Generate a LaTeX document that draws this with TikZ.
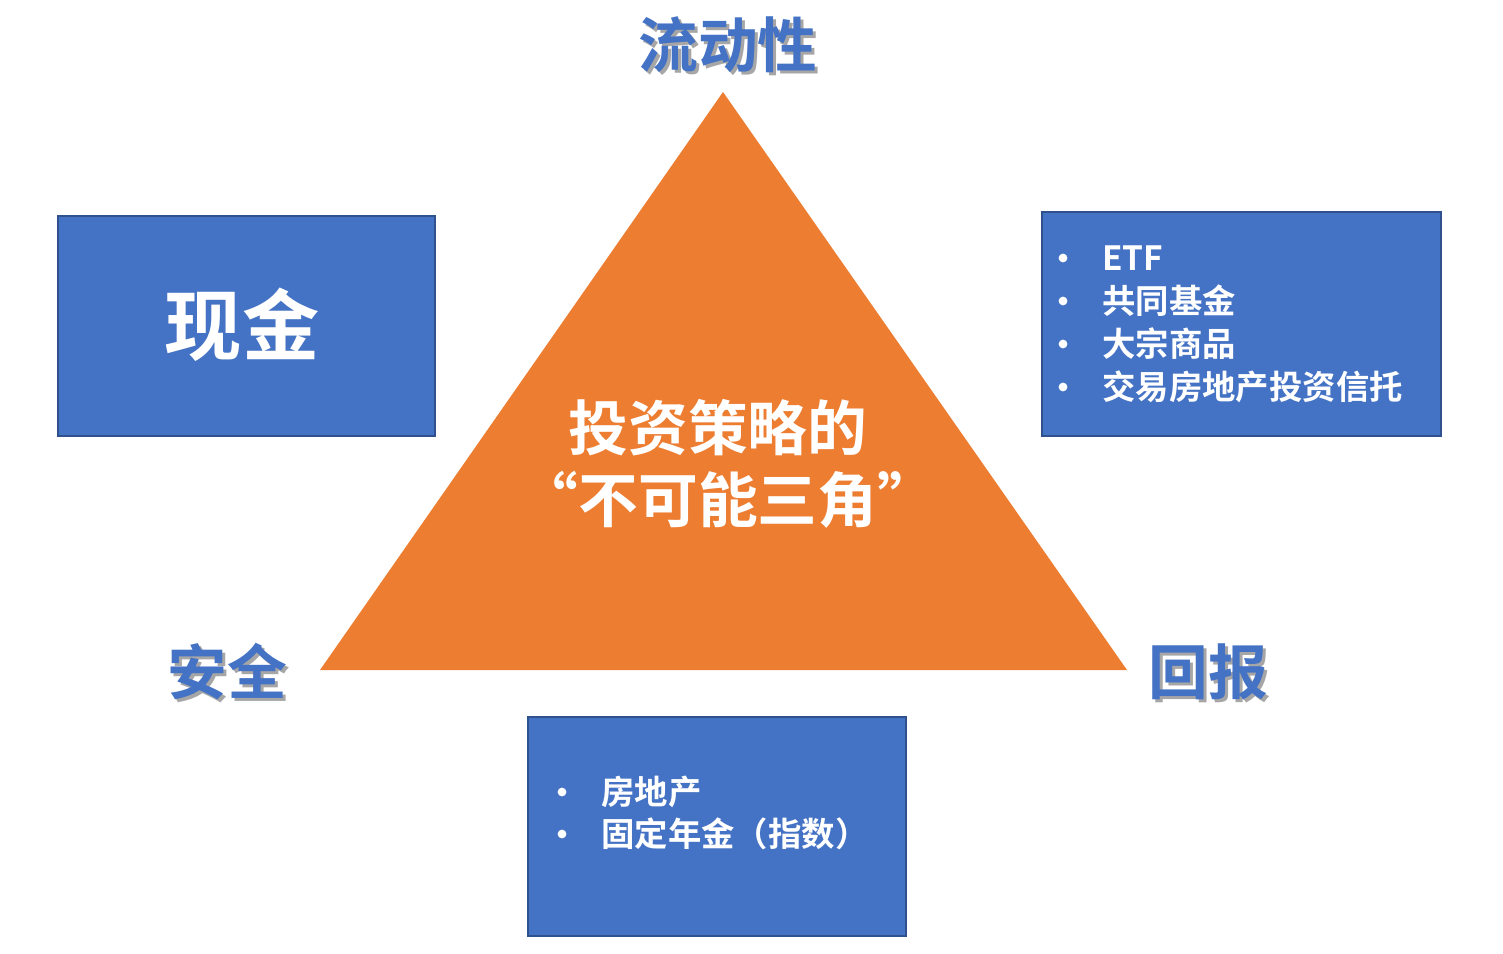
\documentclass[tikz,border=0pt]{standalone}
\usepackage{fontspec}
\setmainfont{Noto Sans CJK SC Bold}
\usetikzlibrary{positioning}
\definecolor{boxblue}{HTML}{4472C4}
\definecolor{boxline}{HTML}{2F528F}
\definecolor{triorange}{HTML}{ED7D31}
\definecolor{labelblue}{HTML}{4472C4}
\tikzset{
  panel/.style={draw=boxline,line width=1pt,fill=boxblue},
  corner/.style={text=labelblue,font=\fontsize{34}{40}\selectfont},
  shade/.style={text=black!35,font=\fontsize{34}{40}\selectfont},
  item/.style={text=white,anchor=west,font=\fontsize{19}{22}\selectfont,inner sep=0pt},
  dot/.style={circle,fill=white,inner sep=0pt,minimum size=5pt}
}
\begin{document}
\begin{tikzpicture}[x=0.02cm,y=-0.02cm]
	\useasboundingbox (0,0) rectangle (1503,953);
	% triangle
	\fill[triorange] (723,92) -- (320,670) -- (1127,670) -- cycle;
	\node[text=white,font=\fontsize{34}{40}\selectfont] (title1) at (718,428) {投资策略的};
	\node[text=white,font=\fontsize{34}{40}\selectfont] (title2) at (728,500) {“不可能三角”};
	% corner labels
	\foreach \t/\x/\y/\n in {流动性/728/45/liq, 安全/227/672/safe, 回报/1208/672/ret}{
		\node[shade] at (\x+3,\y+3) {\t};
		\node[corner] (\n) at (\x,\y) {\t};
	}
	% boxes
	\draw[panel] (58,216) rectangle (435,436);
	\node[text=white,font=\fontsize{44}{50}\selectfont] (cash) at (242,325) {现金};
	\draw[panel] (1042,212) rectangle (1441,436);
	\foreach \t [count=\i] in {ETF,共同基金,大宗商品,交易房地产投资信托}{
		\node[dot] at (1063,215+43*\i) {};
		\node[item] (r\i) at (1102,215+43*\i) {\t};
	}
	\draw[panel] (528,717) rectangle (906,936);
	\foreach \t [count=\i] in {房地产,固定年金（指数）}{
		\node[dot] at (562,750+42*\i) {};
		\node[item] (s\i) at (601,750+42*\i) {\t};
	}
\end{tikzpicture}
\end{document}
